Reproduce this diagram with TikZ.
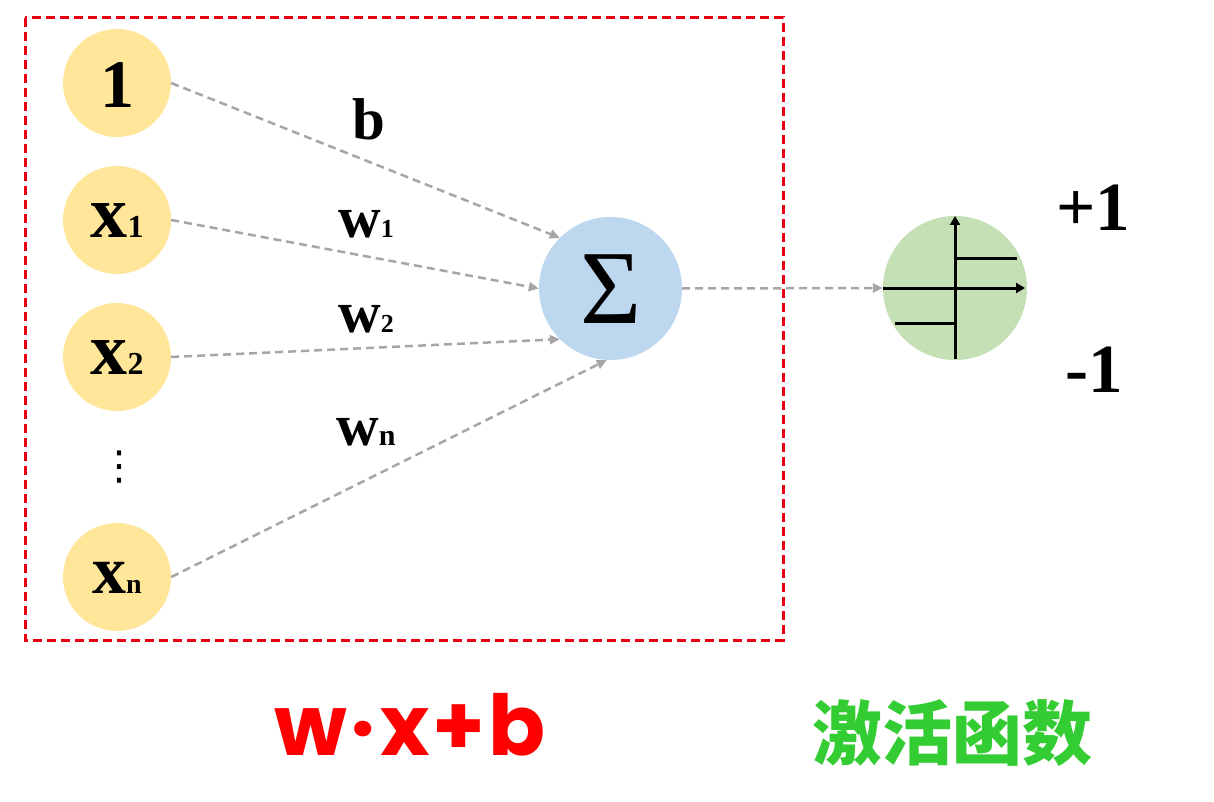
\documentclass[tikz,border=0pt]{standalone}
\usepackage{fontspec}
\setmainfont{Liberation Serif}
\newfontfamily\roundfont{Poppins}
\newfontfamily\cjkfont{Noto Sans CJK SC}
\newfontfamily\symfont{DejaVu Sans}
\usetikzlibrary{arrows.meta}
\definecolor{inyellow}{HTML}{FFE699}
\definecolor{sumblue}{HTML}{BDD7EE}
\definecolor{actgreen}{HTML}{C5E0B4}
\definecolor{linkgray}{HTML}{A6A6A6}
\definecolor{boxred}{HTML}{E60012}
\definecolor{txtred}{HTML}{FF0000}
\definecolor{txtgreen}{HTML}{33CC33}
\begin{document}
\begin{tikzpicture}[x=1pt,y=-1pt,
  incirc/.style={circle,fill=inyellow,minimum size=108pt,inner sep=0pt},
  bigcirc/.style={circle,minimum size=143pt,inner sep=0pt},
  link/.style={draw=linkgray,line width=2.5pt,dash pattern=on 8pt off 5pt,-{Triangle[length=10pt,width=9pt]}},
  axisline/.style={line width=3pt,black},
  wlabel/.style={anchor=base west,inner sep=0pt,font=\bfseries\fontsize{59}{59}\selectfont},
  intext/.style={anchor=base,inner sep=0pt,font=\bfseries}
]
\useasboundingbox (0,0) rectangle (1214,802);
\fill[white] (0,0) rectangle (1214,802);

% dashed frame
\draw[boxred,line width=3pt,dash pattern=on 9pt off 5pt] (25,18) rectangle (783,640);

% inputs
\node[incirc] (one) at (117,83) {};
\node[incirc] (xa) at (117,220) {};
\node[incirc] (xb) at (117,357) {};
\node[incirc] (xc) at (117,577) {};
\node[intext] (onet) at (117,108) {\fontsize{68}{68}\selectfont 1};
\node[intext] (xat) at (117,237) {\fontsize{74}{74}\selectfont x\fontsize{32}{32}\selectfont 1};
\node[intext] (xbt) at (117,374) {\fontsize{74}{74}\selectfont x\fontsize{32}{32}\selectfont 2};
\node[intext] (xct) at (117,593) {\fontsize{68}{68}\selectfont x\fontsize{28}{28}\selectfont n};
\node[inner sep=0pt] (dots) at (119,467) {\symfont\fontsize{40}{40}\selectfont ⋮};

% summation
\node[bigcirc,fill=sumblue] (sum) at (610.5,288.5) {};
\node[anchor=base,inner sep=0pt] (sumt) at (611,323) {\fontsize{105}{105}\selectfont Σ};

% activation
\node[bigcirc,minimum size=144pt,fill=actgreen] (act) at (955,288) {};
\draw[axisline,-{Triangle[length=9pt,width=10pt]}] (955,359) -- (955,216);
\draw[axisline,-{Triangle[length=9pt,width=10pt]}] (883,288) -- (1025,288);
\draw[axisline] (955,258) -- (1017,258);
\draw[axisline] (895,323) -- (955,323);

% links
\draw[link] (one.east) -- (sum.135);
\draw[link] (xa.east) -- (sum.west);
\draw[link] (xb.east) -- (sum.-135);
\draw[link] (xc.east) -- (sum.-93);
\draw[link] (sum.east) -- (act.west);

% weight labels
\node[wlabel] (lb) at (352,140) {b};
\node[wlabel] (lw1) at (338,237) {w\fontsize{26}{26}\selectfont 1};
\node[wlabel] (lw2) at (338,332) {w\fontsize{26}{26}\selectfont 2};
\node[wlabel] (lwn) at (336,445) {w\fontsize{30}{30}\selectfont n};

% outputs
\node[anchor=base,inner sep=0pt,font=\bfseries\fontsize{69}{69}\selectfont] (plus) at (1093,230) {+1};
\node[anchor=base,inner sep=0pt,font=\bfseries\fontsize{69}{69}\selectfont] (minus) at (1094,392) {-1};

% captions
\node[anchor=base,inner sep=0pt,text=txtred,font=\roundfont\bfseries\fontsize{84}{84}\selectfont] (formula) at (410,755) {w\hspace{3pt}·\hspace{5pt}x\hspace{3pt}+\hspace{3pt}b};
\node[inner sep=0pt,text=txtgreen,font=\cjkfont\bfseries\fontsize{70}{70}\selectfont] (acttxt) at (952,733) {激活函数};
\end{tikzpicture}
\end{document}
